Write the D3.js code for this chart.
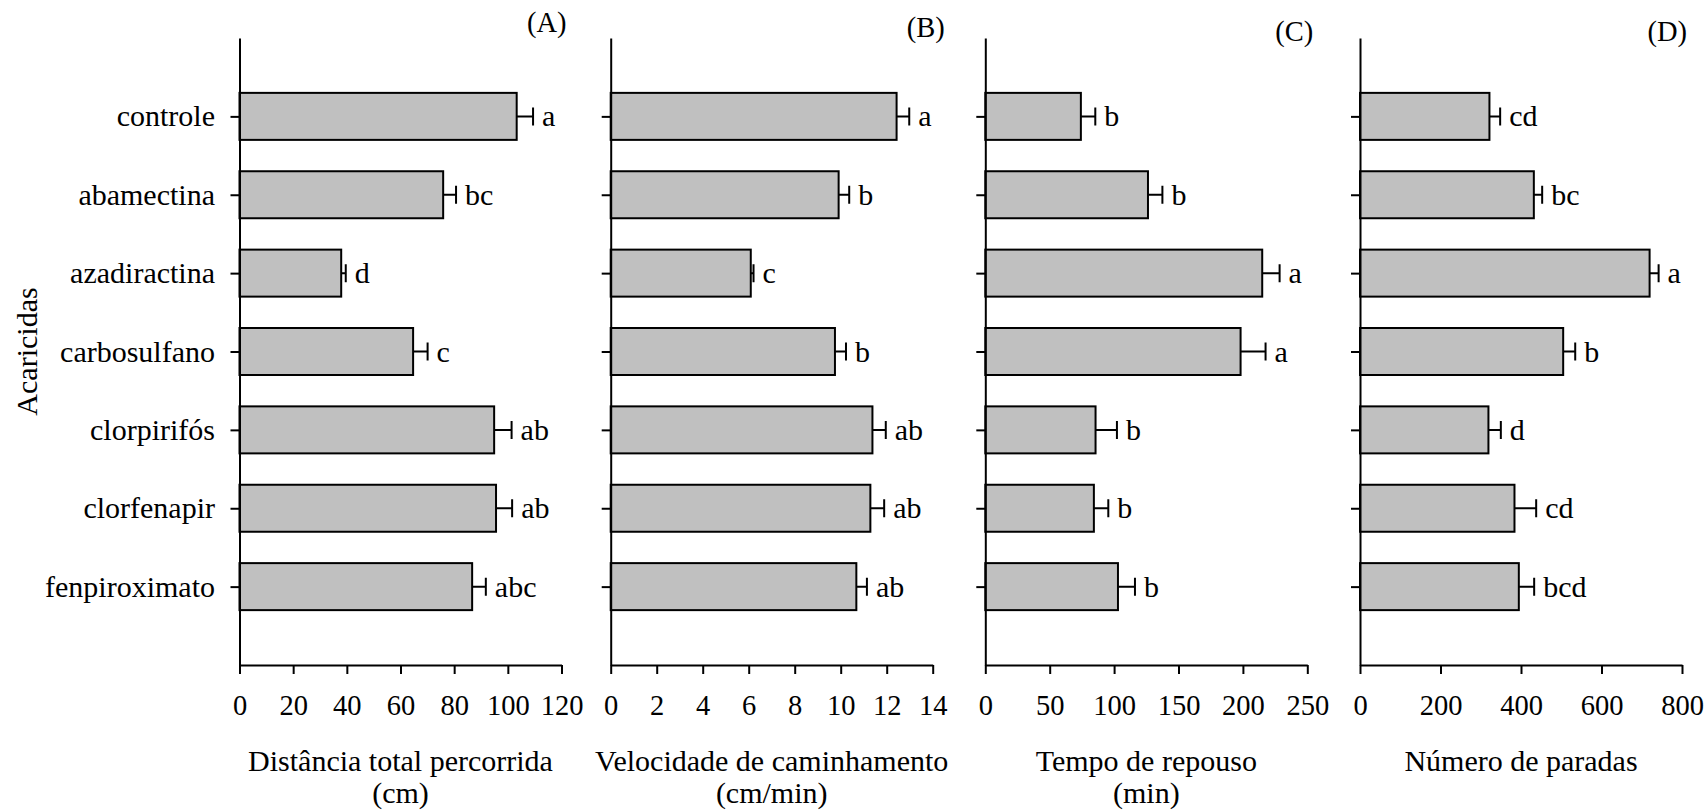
<!DOCTYPE html>
<html>
<head>
<meta charset="utf-8">
<script src="https://cdn.jsdelivr.net/npm/d3@7.9.0/dist/d3.min.js"></script>
<style>
  body { margin: 0; background: #fff; }
  svg text { font-family: 'Liberation Serif', 'Times New Roman', serif; fill: #000; }
</style>
</head>
<body>
<svg id="chart" width="1707" height="812"></svg>
<script>
const categories = ['controle', 'abamectina', 'azadiractina', 'carbosulfano', 'clorpirifós', 'clorfenapir', 'fenpiroximato'];

// (A) distância total percorrida (cm)
const distancia = [103.3, 75.9, 37.9, 64.7, 94.9, 95.6, 86.7];
const distanciaErr = [6.1, 4.8, 1.7, 5.4, 6.5, 6.0, 5.1];
const distanciaLetras = ['a', 'bc', 'd', 'c', 'ab', 'ab', 'abc'];

// (B) velocidade de caminhamento (cm/min)
const velocidade = [12.43, 9.91, 6.09, 9.75, 11.38, 11.29, 10.68];
const velocidadeErr = [0.55, 0.46, 0.12, 0.48, 0.58, 0.6, 0.46];
const velocidadeLetras = ['a', 'b', 'c', 'b', 'ab', 'ab', 'ab'];

// (C) tempo de repouso (min)
const repouso = [74.2, 126.3, 215.0, 198.2, 85.6, 84.3, 103.0];
const repousoErr = [11.2, 11.2, 13.5, 19.4, 16.6, 11.2, 13.2];
const repousoLetras = ['b', 'b', 'a', 'a', 'b', 'b', 'b'];

// (D) número de paradas
const paradas = [321.6, 431.9, 719.5, 504.8, 319.1, 383.8, 394.6];
const paradasErr = [26.6, 20.7, 22.4, 29.9, 30.8, 53.9, 38.1];
const paradasLetras = ['cd', 'bc', 'a', 'b', 'd', 'cd', 'bcd'];

const panels = [
  { tag: '(A)', values: distancia, errors: distanciaErr, letters: distanciaLetras, max: 120, step: 20,
    title: ['Distância total percorrida', '(cm)'], left: 239.5, tagDx: 5, tagY: 32 },
  { tag: '(B)', values: velocidade, errors: velocidadeErr, letters: velocidadeLetras, max: 14, step: 2,
    title: ['Velocidade de caminhamento', '(cm/min)'], left: 610.7, tagDx: 12, tagY: 37 },
  { tag: '(C)', values: repouso, errors: repousoErr, letters: repousoLetras, max: 250, step: 50,
    title: ['Tempo de repouso', '(min)'], left: 985.3, tagDx: 6, tagY: 41 },
  { tag: '(D)', values: paradas, errors: paradasErr, letters: paradasLetras, max: 800, step: 200,
    title: ['Número de paradas'], left: 1360, tagDx: 5, tagY: 41 }
];

const svg = d3.select('#chart');
const yTop = 38, yBottom = 665, panelWidth = 322, barH = 47;
const fontSize = 30;

const y = d3.scalePoint().domain(categories).range([yTop, yBottom]).padding(1);

panels.forEach((p, pi) => {
  const x = d3.scaleLinear().domain([0, p.max]).range([p.left, p.left + panelWidth]);
  const g = svg.append('g');

  // bars
  g.selectAll('rect')
    .data(categories)
    .join('rect')
    .attr('x', x(0))
    .attr('y', d => y(d) - barH / 2)
    .attr('width', (d, i) => x(p.values[i]) - x(0))
    .attr('height', barH)
    .attr('fill', '#c0c0c0')
    .attr('stroke', '#000')
    .attr('stroke-width', 2);

  // error bars (one-sided)
  g.selectAll('path.err')
    .data(categories)
    .join('path')
    .attr('class', 'err')
    .attr('d', (d, i) => {
      const x0 = x(p.values[i]), x1 = x(p.values[i] + p.errors[i]), cy = y(d);
      return `M${x0},${cy}H${x1}M${x1},${cy - 9}V${cy + 9}`;
    })
    .attr('fill', 'none')
    .attr('stroke', '#000')
    .attr('stroke-width', 2);

  // letters
  g.selectAll('text.letter')
    .data(categories)
    .join('text')
    .attr('class', 'letter')
    .attr('x', (d, i) => x(p.values[i] + p.errors[i]) + 9)
    .attr('y', d => y(d) + 10)
    .attr('font-size', fontSize)
    .text((d, i) => p.letters[i]);

  // axes
  const xAxis = g.append('g')
    .attr('transform', `translate(0,${yBottom})`)
    .call(d3.axisBottom(x)
      .tickValues(d3.range(0, p.max + p.step / 2, p.step))
      .tickSize(9)
      .tickSizeOuter(0)
      .tickFormat(d3.format('d')));
  xAxis.selectAll('text').attr('y', 50).attr('dy', 0).attr('font-size', 28.5);

  const yAxis = g.append('g')
    .attr('transform', `translate(${x(0)},0)`)
    .call(d3.axisLeft(y)
      .tickSize(9)
      .tickSizeOuter(0)
      .tickPadding(15.5)
      .tickFormat(d => (pi === 0 ? d : '')));
  yAxis.selectAll('text').attr('font-size', fontSize).attr('dy', '0.32em');

  [xAxis, yAxis].forEach(a => {
    a.selectAll('path, line').attr('stroke', '#000').attr('stroke-width', 2);
    a.attr('font-family', null);
  });

  // panel tag
  g.append('text')
    .attr('x', x(p.max) + p.tagDx)
    .attr('y', p.tagY)
    .attr('text-anchor', 'end')
    .attr('font-size', 28.5)
    .text(p.tag);

  // axis title
  p.title.forEach((line, li) => {
    g.append('text')
      .attr('x', (x(0) + x(p.max)) / 2)
      .attr('y', 771 + li * 32)
      .attr('text-anchor', 'middle')
      .attr('font-size', fontSize)
      .text(line);
  });
});

svg.append('text')
  .attr('transform', `translate(37,${(yTop + yBottom) / 2}) rotate(-90)`)
  .attr('text-anchor', 'middle')
  .attr('font-size', fontSize)
  .text('Acaricidas');
</script>
</body>
</html>
